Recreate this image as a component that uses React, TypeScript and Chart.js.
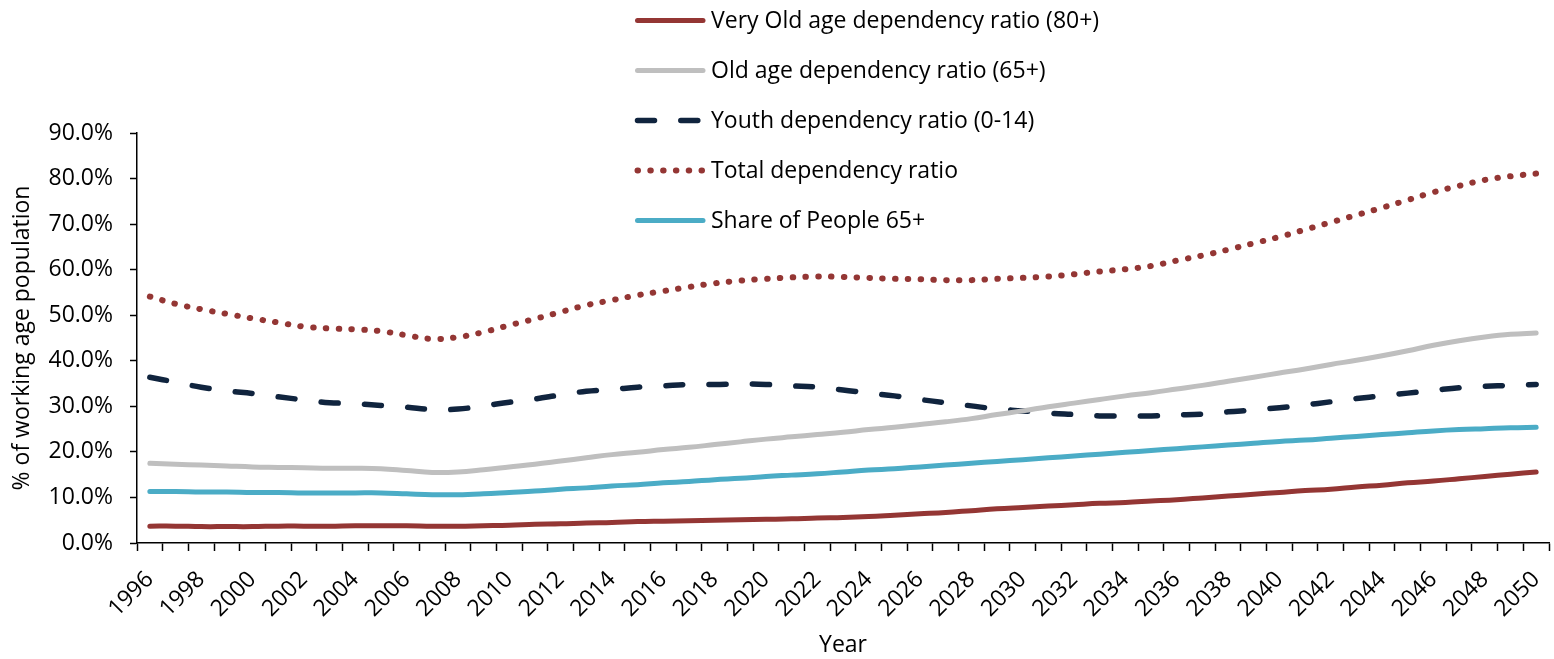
import React, { useEffect, useRef } from "react";
import { Chart, registerables } from "chart.js";

Chart.register(...registerables);

// Categories
const years = [
  "1996", "1997", "1998", "1999", "2000", "2001", "2002", "2003", "2004", "2005",
  "2006", "2007", "2008", "2009", "2010", "2011", "2012", "2013", "2014", "2015",
  "2016", "2017", "2018", "2019", "2020", "2021", "2022", "2023", "2024", "2025",
  "2026", "2027", "2028", "2029", "2030", "2031", "2032", "2033", "2034", "2035",
  "2036", "2037", "2038", "2039", "2040", "2041", "2042", "2043", "2044", "2045",
  "2046", "2047", "2048", "2049", "2050",
];

// Series values (% of working age population)
const veryOldRatio = [
  3.7, 3.7, 3.6, 3.6, 3.6, 3.7, 3.7, 3.7, 3.8, 3.8,
  3.8, 3.7, 3.7, 3.8, 3.9, 4.1, 4.2, 4.4, 4.5, 4.7,
  4.8, 4.9, 5.0, 5.1, 5.2, 5.3, 5.5, 5.6, 5.8, 6.1,
  6.4, 6.7, 7.1, 7.5, 7.8, 8.1, 8.4, 8.7, 8.9, 9.2,
  9.5, 9.9, 10.3, 10.7, 11.1, 11.5, 11.8, 12.3, 12.7, 13.2,
  13.6, 14.1, 14.6, 15.1, 15.6,
];

const oldAgeRatio = [
  17.5, 17.3, 17.1, 16.9, 16.7, 16.6, 16.5, 16.4, 16.4, 16.3,
  15.9, 15.5, 15.6, 16.1, 16.7, 17.3, 18.0, 18.7, 19.4, 19.9,
  20.5, 21.0, 21.6, 22.2, 22.8, 23.3, 23.8, 24.3, 24.9, 25.4,
  26.0, 26.6, 27.3, 28.2, 29.0, 29.9, 30.7, 31.5, 32.3, 33.0,
  33.8, 34.6, 35.5, 36.4, 37.3, 38.2, 39.2, 40.1, 41.1, 42.2,
  43.4, 44.4, 45.2, 45.8, 46.1,
];

const youthRatio = [
  36.4, 35.3, 34.2, 33.4, 32.8, 32.1, 31.4, 30.8, 30.6, 30.2,
  29.8, 29.3, 29.4, 30.1, 30.9, 31.6, 32.5, 33.3, 33.7, 34.2,
  34.5, 34.8, 34.8, 34.9, 34.8, 34.5, 34.2, 33.6, 32.9, 32.3,
  31.5, 30.8, 30.1, 29.4, 29.0, 28.5, 28.2, 27.9, 27.9, 27.9,
  28.1, 28.3, 28.8, 29.2, 29.7, 30.3, 31.0, 31.7, 32.3, 32.9,
  33.5, 34.1, 34.4, 34.6, 34.8,
];

const totalRatio = [
  54.1, 52.5, 51.3, 50.3, 49.3, 48.4, 47.5, 47.1, 46.9, 46.5,
  45.6, 44.8, 45.2, 46.3, 47.8, 49.2, 50.7, 52.2, 53.3, 54.4,
  55.3, 56.2, 57.0, 57.6, 58.0, 58.3, 58.5, 58.4, 58.2, 58.0,
  57.9, 57.7, 57.7, 58.0, 58.2, 58.5, 59.0, 59.6, 60.1, 60.8,
  62.0, 63.1, 64.4, 65.8, 67.2, 68.8, 70.4, 72.0, 73.6, 75.3,
  77.0, 78.4, 79.7, 80.5, 81.1,
];

const share65Plus = [
  11.3, 11.3, 11.2, 11.2, 11.1, 11.1, 11.0, 11.0, 11.0, 11.0,
  10.8, 10.6, 10.6, 10.8, 11.1, 11.4, 11.8, 12.1, 12.5, 12.8,
  13.2, 13.5, 13.9, 14.2, 14.6, 14.9, 15.2, 15.6, 16.0, 16.3,
  16.7, 17.1, 17.5, 17.9, 18.3, 18.7, 19.1, 19.5, 19.9, 20.3,
  20.7, 21.1, 21.5, 21.9, 22.3, 22.6, 23.0, 23.4, 23.8, 24.2,
  24.6, 24.9, 25.1, 25.3, 25.4,
];

const seriesLabels = [
  "Very Old age dependency ratio (80+)",
  "Old age dependency ratio (65+)",
  "Youth dependency ratio (0-14)",
  "Total dependency ratio",
  "Share of People 65+",
];

const yMin = 0;
const yMax = 90;
const yStep = 10;

const FONT = "'Open Sans', 'Noto Sans', sans-serif";
const FONT_SIZE = 23;
const RED = "#943634";
const GREY = "#BFBFBF";
const NAVY = "#10243E";
const TEAL = "#4BACC6";

const DOTS = [0.5, 12.3];
const DASHES = [17, 26.3];

// Vertical legend drawn on the canvas, above the plot
const stackedLegend = {
  id: "stackedLegend",
  afterDraw(chart: any) {
    const ctx = chart.ctx as CanvasRenderingContext2D;
    const sx0 = 637.5;
    const sx1 = 703;
    chart.data.datasets.forEach((ds: any, i: number) => {
      const y = 20.5 + 50 * i;
      ctx.save();
      ctx.strokeStyle = ds.borderColor;
      ctx.lineWidth = ds.borderWidth;
      ctx.lineCap = "round";
      ctx.setLineDash(ds.borderDash || []);
      ctx.beginPath();
      ctx.moveTo(sx0, y);
      ctx.lineTo(ds.borderDash ? sx1 + 0.5 : sx1, y);
      ctx.stroke();
      ctx.setLineDash([]);
      ctx.fillStyle = "#000";
      ctx.font = `${FONT_SIZE}px ${FONT}`;
      ctx.textBaseline = "middle";
      ctx.textAlign = "left";
      ctx.fillText(ds.label, 711, y + 1);
      ctx.restore();
    });
  },
};

export default function App() {
  const canvasRef = useRef<HTMLCanvasElement | null>(null);

  useEffect(() => {
    if (!canvasRef.current) return;
    const line = (label: string, data: number[], color: string, width: number, dash?: number[]) => ({
      label,
      data,
      borderColor: color,
      backgroundColor: color,
      borderWidth: width,
      borderDash: dash,
      borderCapStyle: "round" as const,
      borderJoinStyle: "round" as const,
      pointRadius: 0,
      pointHoverRadius: 0,
      tension: 0.4,
      fill: false,
    });

    const chart = new Chart(canvasRef.current, {
      type: "line",
      data: {
        labels: years,
        datasets: [
          line(seriesLabels[0], veryOldRatio, RED, 5),
          line(seriesLabels[1], oldAgeRatio, GREY, 5),
          line(seriesLabels[2], youthRatio, NAVY, 5.5, DASHES),
          line(seriesLabels[3], totalRatio, RED, 6, DOTS),
          line(seriesLabels[4], share65Plus, TEAL, 5),
        ],
      },
      options: {
        animation: false,
        responsive: false,
        devicePixelRatio: 1,
        layout: { padding: { top: 133, right: 5, left: 0, bottom: 0 } },
        plugins: {
          legend: { display: false },
          tooltip: { enabled: false },
        },
        scales: {
          x: {
            type: "category",
            offset: true,
            grid: {
              offset: true,
              drawOnChartArea: false,
              drawTicks: true,
              tickLength: 8,
              tickWidth: 1.5,
              tickColor: "#000",
            },
            border: { display: true, color: "#000", width: 1.5 },
            ticks: {
              autoSkip: false,
              minRotation: 45,
              maxRotation: 45,
              padding: 15,
              color: "#000",
              font: { family: FONT, size: FONT_SIZE },
              callback: (_v: any, i: number) => (i % 2 === 0 ? years[i] : ""),
            },
            title: {
              display: true,
              text: "Year",
              color: "#000",
              font: { family: FONT, size: FONT_SIZE },
              padding: { top: 0, bottom: 0 },
            },
            afterFit: (scale: any) => {
              scale.height = 116;
              scale.paddingLeft = 0;
              scale.paddingRight = 0;
            },
          },
          y: {
            min: yMin,
            max: yMax,
            grid: {
              drawOnChartArea: false,
              drawTicks: true,
              tickLength: 7,
              tickWidth: 1.5,
              tickColor: "#000",
            },
            border: { display: true, color: "#000", width: 1.5 },
            ticks: {
              stepSize: yStep,
              padding: 17,
              color: "#000",
              font: { family: FONT, size: FONT_SIZE },
              callback: (v: any) => Number(v).toFixed(1) + "%",
            },
            title: {
              display: true,
              text: "% of working age population",
              color: "#000",
              font: { family: FONT, size: FONT_SIZE },
              padding: { top: 9, bottom: 0 },
            },
            afterFit: (scale: any) => {
              scale.width = 137;
            },
          },
        },
      },
      plugins: [stackedLegend],
    });

    return () => chart.destroy();
  }, []);

  return (
    <div style={{ position: "absolute", left: 0, top: 0, width: 1554, height: 659, background: "#fff" }}>
      <canvas ref={canvasRef} width={1554} height={659} />
    </div>
  );
}
